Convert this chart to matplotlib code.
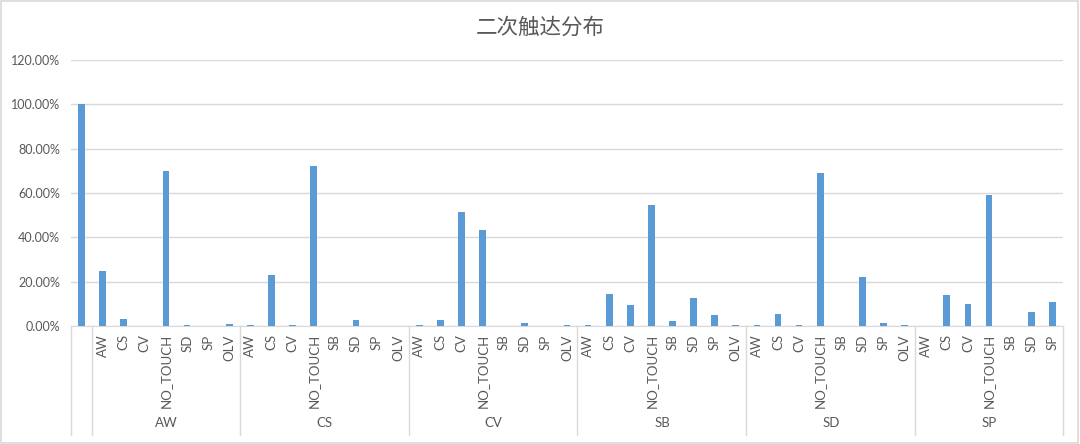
import matplotlib
matplotlib.use("Agg")
import matplotlib.pyplot as plt
import matplotlib.transforms as mtransforms
from matplotlib.patches import Rectangle
from matplotlib.ticker import FuncFormatter

# outer category groups and the inner categories inside each
groups = ['', 'AW', 'CS', 'CV', 'SB', 'SD', 'SP']
inner_labels = [
    [''],
    ['AW', 'CS', 'CV', 'NO_TOUCH', 'SD', 'SP', 'OLV'],
    ['AW', 'CS', 'CV', 'NO_TOUCH', 'SB', 'SD', 'SP', 'OLV'],
    ['AW', 'CS', 'CV', 'NO_TOUCH', 'SB', 'SD', 'SP', 'OLV'],
    ['AW', 'CS', 'CV', 'NO_TOUCH', 'SB', 'SD', 'SP', 'OLV'],
    ['AW', 'CS', 'CV', 'NO_TOUCH', 'SB', 'SD', 'SP', 'OLV'],
    ['AW', 'CS', 'CV', 'NO_TOUCH', 'SB', 'SD', 'SP'],
]

# values in percent
blank_vals = [100.0]
aw_vals = [24.9, 3.0, 0.0, 70.1, 0.3, 0.0, 1.1]
cs_vals = [0.3, 23.0, 0.5, 72.0, 0.0, 2.5, 0.0, 0.0]
cv_vals = [0.4, 2.7, 51.4, 43.1, 0.0, 1.4, 0.0, 0.4]
sb_vals = [0.4, 14.5, 9.5, 54.4, 2.4, 12.8, 5.0, 0.4]
sd_vals = [0.3, 5.3, 0.3, 69.0, 0.0, 22.0, 1.5, 0.3]
sp_vals = [0.0, 13.9, 9.7, 59.3, 0.0, 6.2, 11.0]
group_vals = [blank_vals, aw_vals, cs_vals, cv_vals, sb_vals, sd_vals, sp_vals]

title = '二次触达分布'

txt_color = '#595959'
grid_color = '#D9D9D9'
bar_color = '#5B9BD5'

plt.rcParams['font.family'] = ['Lato', 'DejaVu Sans']

labels = []
values = []
bounds = [0]
for lab, vals in zip(inner_labels, group_vals):
    labels += lab
    values += [v / 100 for v in vals]
    bounds.append(bounds[-1] + len(vals))
x = list(range(len(values)))

fig = plt.figure(figsize=(10.8, 4.44), dpi=100)
ax = fig.add_axes([0.0657, 0.2658, 0.9185, 0.5992])

ax.bar(x, values, width=0.32, color=bar_color, zorder=3)
ax.set_xlim(-0.5, len(values) - 0.5)
ax.set_ylim(0, 1.2)
ax.set_yticks([0, 0.2, 0.4, 0.6, 0.8, 1.0, 1.2])
ax.yaxis.set_major_formatter(FuncFormatter(lambda v, p: '%.2f%%' % (v * 100)))
ax.grid(axis='y', color=grid_color, linewidth=1, zorder=0)
for s in ['top', 'right', 'left']:
    ax.spines[s].set_visible(False)
ax.spines['bottom'].set_color(grid_color)
ax.tick_params(axis='y', length=0, labelsize=9, labelcolor=txt_color, pad=8)
ax.set_xticks(x)
ax.set_xticklabels(labels, rotation=90, fontsize=9.5, color=txt_color)
ax.tick_params(axis='x', length=0, pad=6)

# group separators and group names under the axis
trans = mtransforms.blended_transform_factory(ax.transData, ax.transAxes)
for b in bounds:
    ax.plot([b - 0.5, b - 0.5], [0, -0.41], transform=trans, color=grid_color,
            linewidth=1, clip_on=False)
for i, g in enumerate(groups):
    mid = (bounds[i] + bounds[i + 1] - 1) / 2
    ax.text(mid, -0.365, g, transform=trans, ha='center', va='center',
            fontsize=9.5, color=txt_color)

fig.text(0.5, 0.937, title, ha='center', va='center', fontsize=15.5,
         color=txt_color, family=['Noto Sans CJK SC', 'DejaVu Sans'])

fig.patches.append(Rectangle((0.001, 0.002), 0.997, 0.995, transform=fig.transFigure,
                             fill=False, edgecolor=grid_color, linewidth=1.2))

plt.savefig('out.png', dpi=100)
